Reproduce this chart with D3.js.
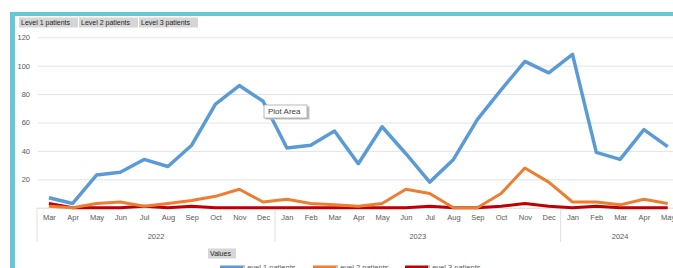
<!DOCTYPE html>
<html>
<head>
<meta charset="utf-8">
<script src="https://cdn.jsdelivr.net/npm/d3@7"></script>
<style>
  body { margin: 0; background: #fff; overflow: hidden; }
  text { font-family: "Liberation Sans", Arial, sans-serif; }
</style>
</head>
<body>
<svg id="chart" width="673" height="268"></svg>
<script>
// months Mar 2022 .. May 2024
const months = ['Mar','Apr','May','Jun','Jul','Aug','Sep','Oct','Nov','Dec',
  'Jan','Feb','Mar','Apr','May','Jun','Jul','Aug','Sep','Oct','Nov','Dec',
  'Jan','Feb','Mar','Apr','May'];
const years = ['2022', '2023', '2024'];
const yearStart = [0, 10, 22]; // first category index of each year

const level1 = [7, 3, 23, 25, 34, 29, 44, 73, 86, 75, 42, 44, 54, 31, 57, 38, 18, 34, 62, 83, 103, 95, 108, 39, 34, 55, 43];
const level2 = [1, 0, 3, 4, 1, 3, 5, 8, 13, 4, 6, 3, 2, 1, 3, 13, 10, 0, 0, 10, 28, 18, 4, 4, 2, 6, 3];
const level3 = [3, 0, 0, 0, 1, 0, 1, 0, 0, 0, 0, 0, 0, 0, 0, 0, 1, 0, 0, 1, 3, 1, 0, 1, 0, 0, 0];

const seriesNames = ['Level 1 patients', 'Level 2 patients', 'Level 3 patients'];
const yTicks = [20, 40, 60, 80, 100, 120];

const series = [
  { name: seriesNames[0], values: level1, color: '#5b9bd5', width: 3.5 },
  { name: seriesNames[1], values: level2, color: '#ed7d31', width: 3 },
  { name: seriesNames[2], values: level3, color: '#c00000', width: 3 }
];

const svg = d3.select('#chart');
const width = +svg.attr('width');
const height = +svg.attr('height');

// frame of the chart object (cropped screenshot)
svg.append('rect').attr('x', 10).attr('y', 12).attr('width', width).attr('height', 4).attr('fill', '#66c7d7');
svg.append('rect').attr('x', 10).attr('y', 12).attr('width', 5).attr('height', height).attr('fill', '#66c7d7');

const step = 23.8;
const left = 37;
const x = d3.scalePoint()
  .domain(d3.range(months.length))
  .range([left, left + step * months.length])
  .padding(0.5);

const y = d3.scaleLinear()
  .domain([0, 120])
  .range([207.7, 37.3]);

// gridlines + y labels
const yAxis = svg.append('g')
  .attr('transform', 'translate(38,0)')
  .call(d3.axisLeft(y).tickValues(yTicks).tickSize(-(width - 38)).tickPadding(8));
yAxis.select('.domain').remove();
yAxis.selectAll('line').attr('stroke', '#e3e3e3');
yAxis.selectAll('text').attr('fill', '#595959').style('font-size', '7.5px');

// category axis
const xAxis = svg.append('g')
  .attr('transform', `translate(0,${y(0)})`)
  .call(d3.axisBottom(x).tickFormat(i => months[i]).tickSize(0).tickPadding(7));
xAxis.select('.domain').attr('stroke', '#d9d9d9');
xAxis.selectAll('text').attr('fill', '#595959').style('font-size', '7.5px');

// year group separators and labels
const yearEnd = yearStart.slice(1).concat([months.length]);
svg.selectAll('.ysep')
  .data(yearStart)
  .enter().append('line')
  .attr('x1', d => x(d) - step / 2)
  .attr('x2', d => x(d) - step / 2)
  .attr('y1', y(0))
  .attr('y2', 242)
  .attr('stroke', '#e0e0e0');

svg.selectAll('.ylab')
  .data(years)
  .enter().append('text')
  .attr('x', (d, i) => (x(yearStart[i]) + x(yearEnd[i] - 1)) / 2)
  .attr('y', 239)
  .attr('text-anchor', 'middle')
  .attr('fill', '#595959')
  .style('font-size', '7.5px')
  .text(d => d);

// lines
const line = d3.line()
  .x((d, i) => x(i))
  .y(d => y(d));

svg.selectAll('.series')
  .data(series.slice().reverse())
  .enter().append('path')
  .attr('fill', 'none')
  .attr('stroke', d => d.color)
  .attr('stroke-width', d => d.width)
  .attr('stroke-linejoin', 'round')
  .attr('d', d => line(d.values));

// pivot field buttons
const btnX = [19, 79, 139];
seriesNames.forEach((n, i) => {
  svg.append('rect').attr('x', btnX[i]).attr('y', 17.5).attr('width', 59).attr('height', 10)
    .attr('fill', '#d6d6d6');
  svg.append('text').attr('x', btnX[i] + 2).attr('y', 25.3)
    .attr('fill', '#262626').style('font-size', '7px').text(n);
});

svg.append('rect').attr('x', 208).attr('y', 248.5).attr('width', 28).attr('height', 10).attr('fill', '#d6d6d6');
svg.append('text').attr('x', 210).attr('y', 256.3).attr('fill', '#262626').style('font-size', '7px').text('Values');

// legend (cut off at the bottom)
const legX = [220, 313, 405];
series.forEach((s, i) => {
  svg.append('line').attr('x1', legX[i]).attr('x2', legX[i] + 23).attr('y1', 267).attr('y2', 267)
    .attr('stroke', s.color).attr('stroke-width', 3);
  svg.append('text').attr('x', legX[i] + 23).attr('y', 269.5)
    .attr('fill', '#595959').style('font-size', '7.5px').text(s.name);
});

// "Plot Area" tooltip
const tip = svg.append('g').attr('transform', 'translate(264,105)');
tip.append('rect').attr('x', 1.5).attr('y', 1.5).attr('width', 44).attr('height', 13).attr('fill', '#bfbfbf');
tip.append('rect').attr('width', 43).attr('height', 13).attr('fill', '#fff').attr('stroke', '#a6a6a6').attr('stroke-width', 0.8);
tip.append('text').attr('x', 4).attr('y', 9.3).attr('fill', '#404040').style('font-size', '8px').text('Plot Area');
</script>
</body>
</html>
